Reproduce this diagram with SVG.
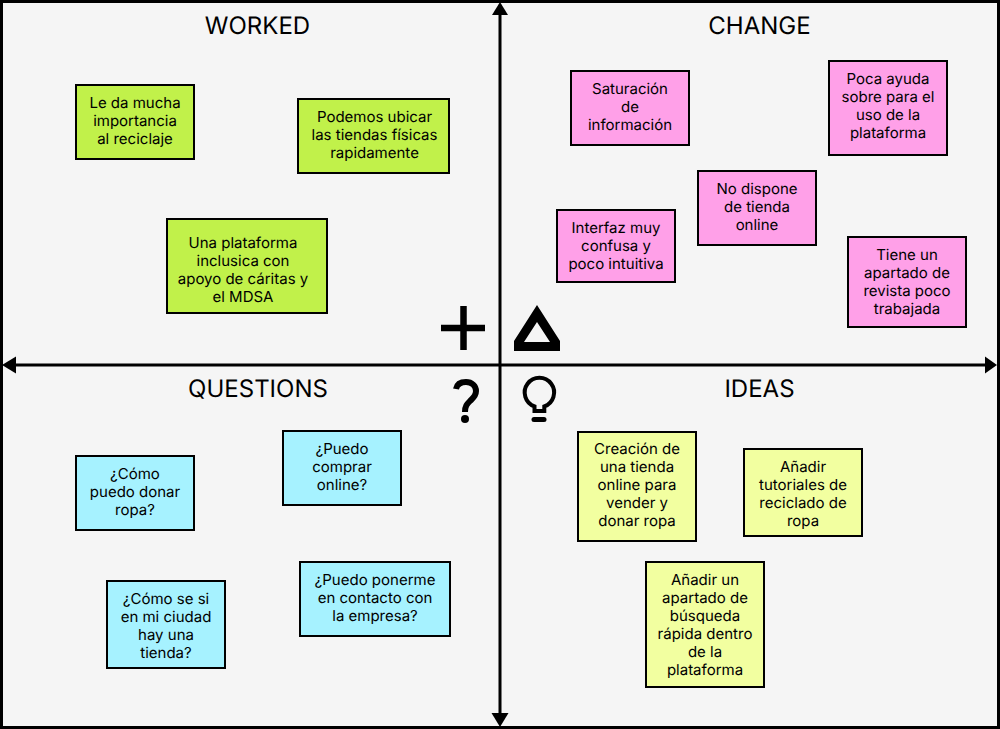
<svg xmlns="http://www.w3.org/2000/svg" width="1000" height="729" viewBox="0 0 1000 729">
<style>
text{font-family:"Inter","Liberation Sans",sans-serif;fill:#000;text-anchor:middle;text-rendering:geometricPrecision}
.t{font-size:24px}
.n{font-size:15px}
.s{stroke:#000;stroke-width:2}
.ax{stroke:#000;stroke-width:3;fill:none}
.ic{stroke:#000;fill:none}
.g{fill:#c1f14a}.p{fill:#ffa0e8}.b{fill:#a6f2ff}.y{fill:#f2ffa0}
</style>
<rect x="1.500" y="1.500" width="997" height="726" fill="#f5f5f5" stroke="#000" stroke-width="3"/>
<g id="connectors">
<path class="ax" d="M500 12V717"/>
<path class="ax" d="M12 365H988"/>
<path d="M500 2l8 13h-16z"/>
<path d="M500 727l8.500-14h-17z"/>
<path d="M2 365l14-8.500v17z"/>
<path d="M997 365l-12-8.500v17z"/>
</g>
<g id="titles">
<text class="t" x="257.500" y="34">WORKED</text>
<text class="t" x="759.500" y="34">CHANGE</text>
<text class="t" x="258" y="397">QUESTIONS</text>
<text class="t" x="759.500" y="397">IDEAS</text>
</g>
<g id="icon-plus"><path d="M463.500 306V350M441 328H485" class="ic" stroke-width="6.500"/></g>
<g id="icon-delta"><path fill-rule="evenodd" d="M537 305L560 341V351H514V341ZM537 322L524 342H550Z"/></g>
<g id="icon-question"><path d="M456 389C457 384 461 382 466 382C472 382 476 386 476 391C476 396 473 398 470 401C467 404 465 406 465 412" class="ic" stroke-width="6"/><circle cx="465" cy="419" r="4"/></g>
<g id="icon-idea"><path d="M534.500 406.400V411H544.300V406.400A14.700 14.700 0 1 0 534.500 406.400Z" class="ic" stroke-width="4"/><path d="M534 419.500H544" class="ic" stroke-width="5" stroke-linecap="round"/></g>

<g id="n1"><rect class="s g" x="76" y="85" width="118" height="74"/><text class="n"><tspan x="135" y="108">Le da mucha</tspan><tspan x="135" y="126">importancia</tspan><tspan x="135" y="144">al reciclaje</tspan></text></g>
<g id="n2"><rect class="s g" x="298" y="99" width="151" height="74"/><text class="n"><tspan x="374.500" y="122">Podemos ubicar</tspan><tspan x="374.500" y="140">las tiendas físicas</tspan><tspan x="374.500" y="158">rapidamente</tspan></text></g>
<g id="n3"><rect class="s g" x="167" y="219" width="160" height="94"/><text class="n"><tspan x="243" y="248">Una plataforma</tspan><tspan x="243" y="266">inclusica con</tspan><tspan x="243" y="284">apoyo de cáritas y</tspan><tspan x="243" y="302">el MDSA</tspan></text></g>

<g id="n4"><rect class="s p" x="571" y="71" width="118" height="74"/><text class="n"><tspan x="630" y="94">Saturación</tspan><tspan x="630" y="112">de</tspan><tspan x="630" y="130">información</tspan></text></g>
<g id="n5"><rect class="s p" x="829" y="61" width="118" height="94"/><text class="n"><tspan x="888" y="84">Poca ayuda</tspan><tspan x="888" y="102">sobre para el</tspan><tspan x="888" y="120">uso de la</tspan><tspan x="888" y="138">plataforma</tspan></text></g>
<g id="n6"><rect class="s p" x="698" y="171" width="118" height="74"/><text class="n"><tspan x="757" y="194">No dispone</tspan><tspan x="757" y="212">de tienda</tspan><tspan x="757" y="230">online</tspan></text></g>
<g id="n7"><rect class="s p" x="557" y="210" width="118" height="72"/><text class="n"><tspan x="616" y="233">Interfaz muy</tspan><tspan x="616" y="251">confusa y</tspan><tspan x="616" y="269">poco intuitiva</tspan></text></g>
<g id="n8"><rect class="s p" x="848" y="237" width="118" height="90"/><text class="n"><tspan x="907" y="260">Tiene un</tspan><tspan x="907" y="278">apartado de</tspan><tspan x="907" y="296">revista poco</tspan><tspan x="907" y="314">trabajada</tspan></text></g>

<g id="n9"><rect class="s b" x="76" y="456" width="118" height="74"/><text class="n"><tspan x="135" y="479">¿Cómo</tspan><tspan x="135" y="497">puedo donar</tspan><tspan x="135" y="515">ropa?</tspan></text></g>
<g id="n10"><rect class="s b" x="283" y="431" width="118" height="74"/><text class="n"><tspan x="342" y="454">¿Puedo</tspan><tspan x="342" y="472">comprar</tspan><tspan x="342" y="490">online?</tspan></text></g>
<g id="n11"><rect class="s b" x="107" y="581" width="118" height="87"/><text class="n"><tspan x="166" y="604">¿Cómo se si</tspan><tspan x="166" y="622">en mi ciudad</tspan><tspan x="166" y="640">hay una</tspan><tspan x="166" y="658">tienda?</tspan></text></g>
<g id="n12"><rect class="s b" x="300" y="562" width="150" height="74"/><text class="n"><tspan x="375" y="585">¿Puedo ponerme</tspan><tspan x="375" y="603">en contacto con</tspan><tspan x="375" y="621">la empresa?</tspan></text></g>

<g id="n13"><rect class="s y" x="578" y="432" width="118" height="109"/><text class="n"><tspan x="637" y="454">Creación de</tspan><tspan x="637" y="472">una tienda</tspan><tspan x="637" y="490">online para</tspan><tspan x="637" y="508">vender y</tspan><tspan x="637" y="526">donar ropa</tspan></text></g>
<g id="n14"><rect class="s y" x="744" y="449" width="118" height="87"/><text class="n"><tspan x="803" y="472">Añadir</tspan><tspan x="803" y="490">tutoriales de</tspan><tspan x="803" y="508">reciclado de</tspan><tspan x="803" y="526">ropa</tspan></text></g>
<g id="n15"><rect class="s y" x="646" y="562" width="118" height="125"/><text class="n"><tspan x="705" y="585">Añadir un</tspan><tspan x="705" y="603">apartado de</tspan><tspan x="705" y="621">búsqueda</tspan><tspan x="705" y="639">rápida dentro</tspan><tspan x="705" y="657">de la</tspan><tspan x="705" y="675">plataforma</tspan></text></g>
</svg>
